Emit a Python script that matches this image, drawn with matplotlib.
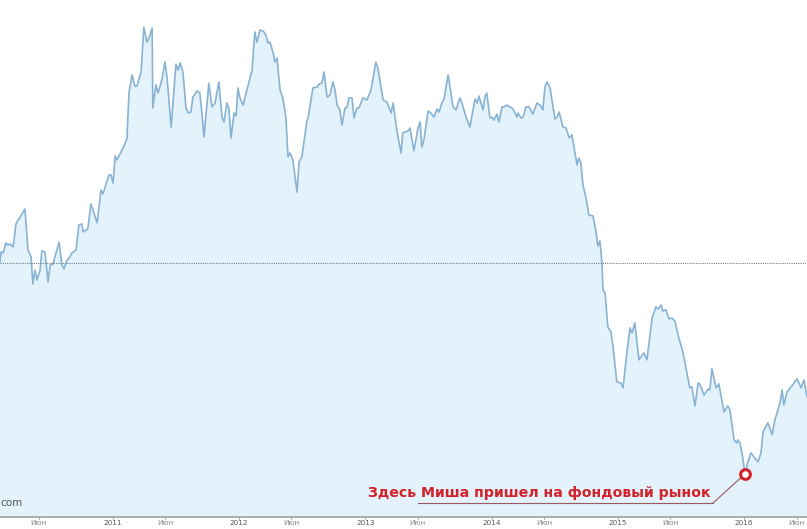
import matplotlib
matplotlib.use("Agg")
import matplotlib.pyplot as plt
import numpy as np
import pandas as pd

# index values (days since start)
start = "2010-02-09"
days = [0, 3, 9, 17, 23, 29, 38, 46, 72, 81, 90, 95, 101, 107, 116, 121, 130, 139, 145, 153,
        159, 171, 179, 185, 194, 200, 208, 220, 228, 237, 240, 254, 263, 281, 292, 298, 315, 321, 327, 333,
        338, 350, 356, 367, 373, 382, 390, 396, 408, 416, 425, 431, 440, 442, 451, 457, 468, 477, 483, 495,
        509, 515, 521, 529, 538, 544, 552, 558, 570, 578, 584, 590, 604, 613, 622, 633, 642, 648, 656, 662,
        668, 677, 683, 688, 694, 703, 714, 729, 737, 743, 752, 761, 769, 775, 781, 790, 795, 801, 810, 818,
        827, 833, 839, 847, 859, 865, 873, 888, 891, 905, 917, 923, 931, 937, 946, 954, 963, 969, 975, 983,
        989, 998, 1004, 1009, 1018, 1024, 1032, 1038, 1050, 1061, 1073, 1087, 1093, 1108, 1119, 1131, 1137, 1148, 1160, 1165,
        1180, 1186, 1197, 1209, 1215, 1220, 1226, 1238, 1246, 1255, 1264, 1270, 1278, 1284, 1296, 1299, 1310, 1319, 1330, 1336,
        1348, 1359, 1374, 1380, 1385, 1397, 1403, 1408, 1417, 1423, 1429, 1437, 1443, 1452, 1458, 1466, 1475, 1484, 1495, 1498,
        1507, 1513, 1521, 1530, 1541, 1553, 1562, 1570, 1576, 1582, 1591, 1605, 1611, 1617, 1628, 1637, 1646, 1654, 1657, 1669,
        1674, 1680, 1686, 1695, 1703, 1715, 1724, 1729, 1735, 1741, 1744, 1750, 1758, 1767, 1773, 1784, 1796, 1802, 1813, 1822,
        1828, 1836, 1848, 1862, 1871, 1886, 1897, 1903, 1912, 1917, 1926, 1935, 1943, 1952, 1961, 1975, 1995, 2001, 2010, 2019,
        2024, 2036, 2048, 2053, 2059, 2071, 2079, 2094, 2105, 2111, 2123, 2131, 2134, 2140, 2146, 2155, 2163, 2172, 2183, 2192,
        2201, 2207, 2221, 2233, 2241, 2256, 2262, 2267, 2276, 2290, 2305, 2317, 2325, 2334]
values = [1318, 1351, 1348, 1381, 1374, 1378, 1368, 1444, 1494, 1358, 1335, 1245, 1291, 1258, 1291, 1355, 1351, 1252, 1308, 1311,
          1335, 1384, 1308, 1295, 1325, 1331, 1348, 1358, 1441, 1444, 1418, 1428, 1511, 1448, 1557, 1544, 1607, 1607, 1580, 1670,
          1657, 1683, 1697, 1726, 1879, 1939, 1902, 1902, 1949, 2098, 2048, 2062, 2095, 1829, 1906, 1879, 1922, 1982, 1932, 1766,
          1975, 1955, 1979, 1949, 1829, 1813, 1816, 1866, 1886, 1879, 1813, 1733, 1912, 1833, 1846, 1916, 1799, 1783, 1846, 1829,
          1730, 1813, 1803, 1896, 1863, 1839, 1889, 1955, 2082, 2048, 2088, 2085, 2072, 2045, 2048, 2012, 1982, 1995, 1889, 1863,
          1796, 1667, 1680, 1657, 1550, 1650, 1667, 1789, 1796, 1896, 1899, 1909, 1912, 1949, 1866, 1872, 1916, 1889, 1839, 1823,
          1773, 1829, 1833, 1863, 1863, 1796, 1829, 1829, 1863, 1856, 1889, 1982, 1962, 1856, 1849, 1813, 1846, 1753, 1680, 1747,
          1753, 1763, 1687, 1763, 1783, 1700, 1723, 1819, 1813, 1799, 1826, 1816, 1846, 1859, 1939, 1919, 1833, 1823, 1863, 1846,
          1799, 1766, 1859, 1846, 1869, 1823, 1869, 1879, 1796, 1799, 1789, 1809, 1783, 1833, 1833, 1839, 1833, 1826, 1799, 1813,
          1796, 1799, 1833, 1833, 1809, 1846, 1839, 1823, 1899, 1916, 1896, 1793, 1799, 1816, 1766, 1763, 1730, 1740, 1720, 1640,
          1663, 1647, 1574, 1531, 1474, 1471, 1418, 1371, 1388, 1315, 1225, 1215, 1102, 1086, 1036, 920, 916, 900, 1016, 1099,
          1082, 1116, 993, 1016, 993, 1132, 1169, 1162, 1175, 1155, 1159, 1129, 1132, 1122, 1076, 1019, 900, 903, 840, 916,
          913, 876, 896, 893, 963, 900, 913, 820, 840, 827, 727, 717, 727, 717, 684, 614, 654, 684, 667, 654,
          684, 754, 784, 744, 793, 850, 893, 843, 886, 906, 930, 900, 926, 870]
baseline = 1315

year_ticks = ["2011-01-01", "2012-01-01", "2013-01-01", "2014-01-01", "2015-01-01", "2016-01-01"]
year_labels = ["2011", "2012", "2013", "2014", "2015", "2016"]
june_ticks = ["2010-06-01", "2011-06-01", "2012-06-01", "2013-06-01", "2014-06-01", "2015-06-01", "2016-06-01"]
june_label = "Июн"
note = "Здесь Миша пришел на фондовый рынок"

dates = pd.Timestamp(start) + pd.to_timedelta(days, unit="D")

fig = plt.figure(figsize=(8.07, 5.29), dpi=100)
ax = fig.add_axes([0, 12 / 529, 1, 517 / 529])

ymin, ymax = 471, 2188
ax.fill_between(dates, values, ymin, color="#e3f2fb", lw=0)
ax.plot(dates, values, color="#88b3d3", lw=1.2)
ax.axhline(baseline, color="#6f8090", lw=0.8, ls=(0, (1, 1)))

ax.set_xlim(dates[0], dates[-1])
ax.set_ylim(ymin, ymax)

ticks = [pd.Timestamp(t) for t in year_ticks] + [pd.Timestamp(t) for t in june_ticks]
labels = year_labels + [june_label] * len(june_ticks)
ax.set_xticks(ticks)
ax.set_xticklabels(labels)
for lab in ax.get_xticklabels():
    if lab.get_text() == june_label:
        lab.set_color("#8a8a8a")
    else:
        lab.set_color("#555555")
ax.tick_params(axis="x", length=1.5, width=0.8, color="#999999", pad=0.8, labelsize=5.2)
ax.set_yticks([])

for s in ["top", "left", "right"]:
    ax.spines[s].set_visible(False)
ax.spines["bottom"].set_color("#a0a0a0")
ax.spines["bottom"].set_linewidth(1.2)

# annotation at the low point
imin = int(np.argmin(values))
red = "#d2232a"
ax.plot([0.518, 0.8835], [0.0271, 0.0271], transform=ax.transAxes, color="#9a5a60", lw=0.8)
ax.annotate("", xy=(dates[imin], values[imin]), xycoords="data",
            xytext=(0.8835, 0.0271), textcoords="axes fraction",
            arrowprops=dict(arrowstyle="-", color="#9a5a60", lw=0.8, shrinkA=0, shrinkB=4))
ax.plot(dates[imin], values[imin], "o", ms=7, mfc="white", mec=red, mew=2.2, zorder=5)
ax.text(0.668, 0.0387, note, transform=ax.transAxes, ha="center", va="baseline",
        fontsize=10.2, fontweight="bold", color=red)

fig.text(0.0, (529 - 503) / 529, "com", ha="left", va="center", fontsize=7.5, color="#555555")

fig.savefig("out.png", dpi=100)
